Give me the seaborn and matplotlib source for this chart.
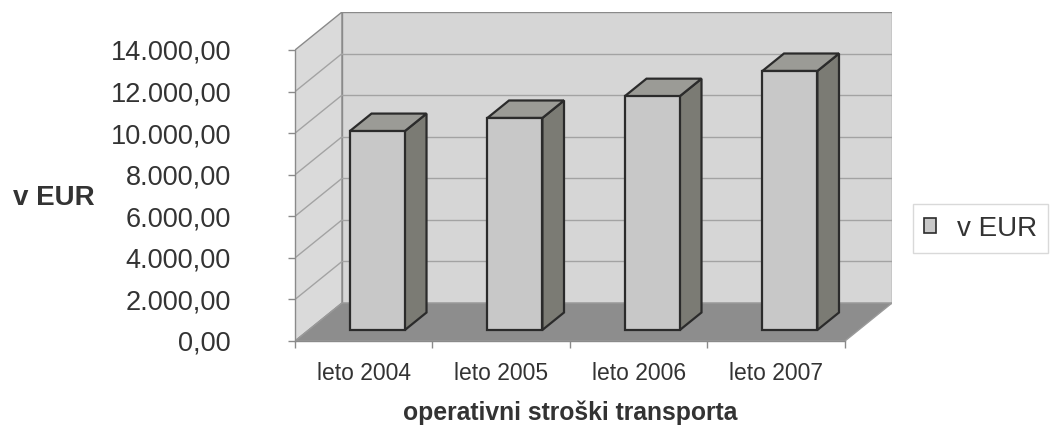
import numpy as np
import pandas as pd
import seaborn as sns
import matplotlib.pyplot as plt
import matplotlib.transforms as mtransforms
from matplotlib.patches import Polygon, Rectangle, Patch
from matplotlib.ticker import FuncFormatter, FixedLocator

# data
years = ['leto 2004', 'leto 2005', 'leto 2006', 'leto 2007']
costs = [9570, 10200, 11250, 12460]
series_name = 'v EUR'
y_title = 'v EUR'
x_title = 'operativni stroški transporta'

sns.set_style('white')
plt.rcParams['font.family'] = ['Liberation Sans', 'DejaVu Sans']

df = pd.DataFrame({'leto': years, 'eur': costs})

fig = plt.figure(figsize=(10.54, 4.29), dpi=100)
ax = fig.add_axes([295 / 1054, 88 / 429, 597 / 1054, 329 / 429])

ymax = 14000
D = 0.342      # depth of the 3d box in category units
DY = 1828      # depth of the 3d box in value units
f0, f1 = 0.29, 0.75   # bar front / back position in depth

wall = '#d6d6d6'
wall_left = '#dadada'
floor = '#8d8d8d'
edge_wall = '#8a8a8a'
grid_c = '#a3a3a3'
front_c = '#c8c8c8'
side_c = '#7b7b74'
top_c = '#9b9b96'
bar_edge = '#2b2b2b'
text_c = '#333333'

x0, x1 = -0.5, len(years) - 0.5

# walls and floor
ax.add_patch(Polygon([(x0, 0), (x0, ymax), (x0 + D, ymax + DY), (x0 + D, DY)],
                     facecolor=wall_left, edgecolor=edge_wall, lw=1, zorder=0.5))
ax.add_patch(Rectangle((x0 + D, DY), x1 - x0, ymax, facecolor=wall,
                       edgecolor=edge_wall, lw=1, zorder=0.5))
for t in range(2000, ymax, 2000):
    ax.plot([x0 + D, x1 + D], [t + DY, t + DY], color=grid_c, lw=1, zorder=0.6)
    ax.plot([x0, x0 + D], [t, t + DY], color=grid_c, lw=1, zorder=0.6)
ax.add_patch(Polygon([(x0, 0), (x1, 0), (x1 + D, DY), (x0 + D, DY)],
                     facecolor=floor, edgecolor='#9a9a9a', lw=1, zorder=0.7))

# bars: front faces from seaborn, then moved back into the box
sns.barplot(data=df, x='leto', y='eur', width=0.4, color=front_c, saturation=1,
            edgecolor=bar_edge, linewidth=1.6, ax=ax)

sx, sy = f0 * D, f0 * DY
bx, by = (f1 - f0) * D, (f1 - f0) * DY
shift = mtransforms.Affine2D().translate(sx, sy) + ax.transData
for p in list(ax.patches):
    if not isinstance(p, Rectangle) or abs(p.get_width() - 0.4) > 1e-6:
        continue
    xl = p.get_x() + sx
    w = p.get_width()
    h = p.get_height()
    p.set_transform(shift)
    p.set_zorder(3)
    xr = xl + w
    ax.add_patch(Polygon([(xr, sy), (xr + bx, sy + by), (xr + bx, h + sy + by), (xr, h + sy)],
                         facecolor=side_c, edgecolor=bar_edge, lw=1.6, zorder=2))
    ax.add_patch(Polygon([(xl, h + sy), (xr, h + sy), (xr + bx, h + sy + by), (xl + bx, h + sy + by)],
                         facecolor=top_c, edgecolor=bar_edge, lw=1.6, zorder=2))

ax.set_xlim(x0, x1 + D)
ax.set_ylim(0, ymax + DY)
ax.set_facecolor('white')

for s in ['top', 'right']:
    ax.spines[s].set_visible(False)
ax.spines['left'].set_bounds(0, ymax)
ax.spines['bottom'].set_bounds(x0, x1)
for s in ['left', 'bottom']:
    ax.spines[s].set_color(edge_wall)
    ax.spines[s].set_linewidth(1)
    ax.spines[s].set_zorder(0.8)

ax.set_yticks(list(range(0, ymax + 1, 2000)))
ax.yaxis.set_major_formatter(FuncFormatter(
    lambda v, pos: f'{v:,.2f}'.replace(',', ' ').replace('.', ',').replace(' ', '.')))
ax.tick_params(axis='y', direction='out', length=5, width=1, color=edge_wall,
               labelsize=19.5, labelcolor=text_c, pad=41, left=True)
ax.xaxis.set_minor_locator(FixedLocator(np.arange(x0, x1 + 0.01, 1.0)))
ax.tick_params(axis='x', which='major', length=0, labelsize=16.5, labelcolor=text_c, pad=15)
ax.tick_params(axis='x', which='minor', direction='out', length=5, width=1,
               color=edge_wall, bottom=True)

ax.set_ylabel(y_title, rotation=0, fontsize=20, fontweight='bold', color=text_c,
              ha='center', va='center')
ax.yaxis.set_label_coords(-0.404, 0.435)
ax.set_xlabel(x_title, fontsize=17.8, fontweight='bold', color=text_c, va='center')
ax.xaxis.set_label_coords(0.4606, -0.219)

leg = fig.legend(handles=[Patch(facecolor=front_c, edgecolor=bar_edge, lw=1.2)],
                 labels=[series_name], loc='center left',
                 bbox_to_anchor=(913 / 1054, (429 - 228.5) / 429),
                 fontsize=20, frameon=True, fancybox=False, handlelength=0.42,
                 handleheight=0.42, handletextpad=0.75, borderpad=0.4,
                 borderaxespad=0)
leg.get_frame().set_edgecolor('#d0d0d0')
leg.get_frame().set_linewidth(1)
for t in leg.get_texts():
    t.set_color(text_c)

fig.savefig('out.png', dpi=100, facecolor='white')
